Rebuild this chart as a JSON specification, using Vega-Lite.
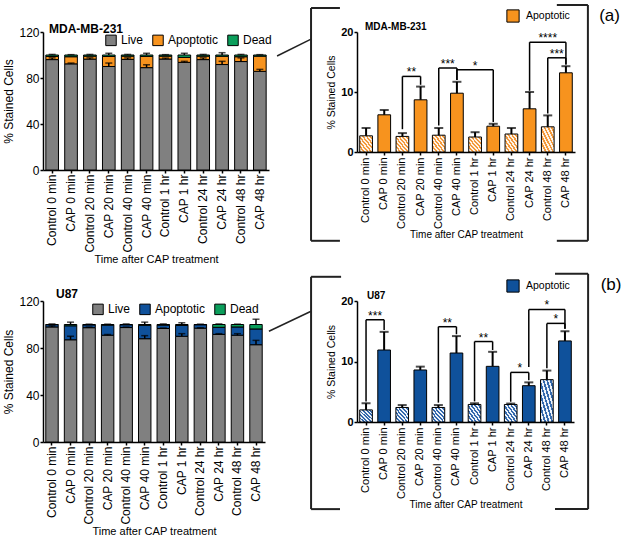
{
  "$schema": "https://vega.github.io/schema/vega-lite/v6.json",
  "padding": {"left": 2, "top": 3, "right": 3, "bottom": 3},
  "background": "white",
  "config": {
    "font": "Liberation Sans",
    "view": {"stroke": null},
    "axis": {"domainColor": "black", "domainWidth": 1.5, "tickColor": "black", "tickWidth": 1.5, "tickSize": 3, "labelColor": "black", "titleColor": "black", "grid": false, "titleFontWeight": "normal", "labelFont": "Liberation Sans", "titleFont": "Liberation Sans"},
    "legend": {"labelFont": "Liberation Sans", "labelColor": "black"},
    "title": {"font": "Liberation Sans", "color": "black", "fontWeight": "bold"}
  },
  "datasets": {
    "mda": [
      {"cond": "Control 0 min", "group": "Control", "Live": 96.0, "Apoptotic": 2.7, "Dead": 1.3, "apopHi": 4.0, "liveHi": 97.5, "totHi": 100.5},
      {"cond": "CAP 0 min", "group": "CAP", "Live": 92.3, "Apoptotic": 6.2, "Dead": 1.5, "apopHi": 7.0, "liveHi": 93.0, "totHi": 100.3},
      {"cond": "Control 20 min", "group": "Control", "Live": 96.4, "Apoptotic": 2.6, "Dead": 1.0, "apopHi": 3.15, "liveHi": 97.5, "totHi": 100.5},
      {"cond": "CAP 20 min", "group": "CAP", "Live": 90.0, "Apoptotic": 8.7, "Dead": 1.3, "apopHi": 10.9, "liveHi": 93.0, "totHi": 101.5},
      {"cond": "Control 40 min", "group": "Control", "Live": 96.2, "Apoptotic": 2.8, "Dead": 1.0, "apopHi": 4.0, "liveHi": 97.5, "totHi": 100.5},
      {"cond": "CAP 40 min", "group": "CAP", "Live": 89.0, "Apoptotic": 9.8, "Dead": 1.2, "apopHi": 11.7, "liveHi": 91.5, "totHi": 101.5},
      {"cond": "Control 1 hr", "group": "Control", "Live": 96.5, "Apoptotic": 2.5, "Dead": 1.0, "apopHi": 3.3, "liveHi": 97.3, "totHi": 100.3},
      {"cond": "CAP 1 hr", "group": "CAP", "Live": 93.6, "Apoptotic": 4.3, "Dead": 2.1, "apopHi": 4.7, "liveHi": 94.5, "totHi": 101.5},
      {"cond": "Control 24 hr", "group": "Control", "Live": 96.0, "Apoptotic": 3.0, "Dead": 1.0, "apopHi": 4.0, "liveHi": 97.5, "totHi": 100.5},
      {"cond": "CAP 24 hr", "group": "CAP", "Live": 91.7, "Apoptotic": 7.2, "Dead": 1.1, "apopHi": 10.0, "liveHi": 94.5, "totHi": 102.0},
      {"cond": "Control 48 hr", "group": "Control", "Live": 94.3, "Apoptotic": 4.2, "Dead": 1.5, "apopHi": 6.1, "liveHi": 97.5, "totHi": 100.5},
      {"cond": "CAP 48 hr", "group": "CAP", "Live": 85.8, "Apoptotic": 13.2, "Dead": 1.0, "apopHi": 14.3, "liveHi": 87.5, "totHi": 100.3}
    ],
    "u87": [
      {"cond": "Control 0 min", "group": "Control", "Live": 97.9, "Apoptotic": 2.0, "Dead": 0.1, "apopHi": 3.1, "liveHi": 98.9, "totHi": 100.5},
      {"cond": "CAP 0 min", "group": "CAP", "Live": 87.0, "Apoptotic": 11.9, "Dead": 1.1, "apopHi": 14.9, "liveHi": 90.0, "totHi": 102.0},
      {"cond": "Control 20 min", "group": "Control", "Live": 97.3, "Apoptotic": 2.4, "Dead": 0.3, "apopHi": 2.8, "liveHi": 97.8, "totHi": 100.3},
      {"cond": "CAP 20 min", "group": "CAP", "Live": 90.9, "Apoptotic": 8.6, "Dead": 0.5, "apopHi": 9.15, "liveHi": 91.5, "totHi": 100.3},
      {"cond": "Control 40 min", "group": "Control", "Live": 97.4, "Apoptotic": 2.4, "Dead": 0.2, "apopHi": 2.8, "liveHi": 97.8, "totHi": 100.5},
      {"cond": "CAP 40 min", "group": "CAP", "Live": 87.9, "Apoptotic": 11.4, "Dead": 0.7, "apopHi": 14.2, "liveHi": 90.5, "totHi": 102.0},
      {"cond": "Control 1 hr", "group": "Control", "Live": 96.6, "Apoptotic": 2.9, "Dead": 0.5, "apopHi": 3.1, "liveHi": 97.0, "totHi": 100.5},
      {"cond": "CAP 1 hr", "group": "CAP", "Live": 90.0, "Apoptotic": 9.2, "Dead": 0.8, "apopHi": 11.6, "liveHi": 92.2, "totHi": 101.5},
      {"cond": "Control 24 hr", "group": "Control", "Live": 96.9, "Apoptotic": 2.9, "Dead": 0.2, "apopHi": 3.05, "liveHi": 97.2, "totHi": 100.3},
      {"cond": "CAP 24 hr", "group": "CAP", "Live": 91.6, "Apoptotic": 6.0, "Dead": 2.4, "apopHi": 6.55, "liveHi": 92.2, "totHi": 100.5},
      {"cond": "Control 48 hr", "group": "Control", "Live": 90.9, "Apoptotic": 7.0, "Dead": 2.1, "apopHi": 8.5, "liveHi": 92.2, "totHi": 100.3},
      {"cond": "CAP 48 hr", "group": "CAP", "Live": 82.8, "Apoptotic": 13.4, "Dead": 3.8, "apopHi": 15.0, "liveHi": 86.5, "totHi": 104.5}
    ],
    "sigA": [
      {"from": "Control 20 min", "to": "CAP 20 min", "span": 1, "y": 12.6, "yFrom": 3.8, "yTo": 11.2, "label": "**"},
      {"from": "Control 40 min", "to": "CAP 40 min", "span": 1, "y": 14.0, "yFrom": 4.4, "yTo": 12.0, "label": "***"},
      {"from": "CAP 40 min", "to": "CAP 1 hr", "mid": "Control 1 hr", "span": 2, "y": 13.7, "yFrom": 12.0, "yTo": 5.0, "label": "*"},
      {"from": "CAP 24 hr", "to": "CAP 48 hr", "mid": "Control 48 hr", "span": 2, "y": 18.3, "yFrom": 10.2, "yTo": 14.6, "label": "****"},
      {"from": "Control 48 hr", "to": "CAP 48 hr", "span": 1, "y": 15.7, "yFrom": 6.4, "yTo": 14.6, "label": "***"}
    ],
    "sigB": [
      {"from": "Control 0 min", "to": "CAP 0 min", "span": 1, "y": 16.9, "yFrom": 3.4, "yTo": 15.2, "label": "***"},
      {"from": "Control 40 min", "to": "CAP 40 min", "span": 1, "y": 15.75, "yFrom": 3.2, "yTo": 14.5, "label": "**"},
      {"from": "Control 1 hr", "to": "CAP 1 hr", "span": 1, "y": 13.3, "yFrom": 3.4, "yTo": 11.9, "label": "**"},
      {"from": "Control 24 hr", "to": "CAP 24 hr", "span": 1, "y": 8.2, "yFrom": 3.35, "yTo": 6.9, "label": "*"},
      {"from": "CAP 24 hr", "to": "CAP 48 hr", "mid": "Control 48 hr", "span": 2, "y": 18.6, "yFrom": 9.1, "yTo": 15.4, "label": "*"},
      {"from": "Control 48 hr", "to": "CAP 48 hr", "span": 1, "y": 16.3, "yFrom": 8.9, "yTo": 15.4, "label": "*"}
    ]
  },
  "concat": [
    {
      "width": 226, "height": 138,
      "title": {"text": "MDA-MB-231", "anchor": "start", "frame": "group", "fontSize": 12, "offset": -10, "dx": 6},
      "layer": [
        {
          "data": {"name": "mda"},
          "transform": [{"fold": ["Live", "Apoptotic", "Dead"], "as": ["stain", "pct"]}],
          "mark": {"type": "bar", "stroke": "black", "strokeWidth": 1},
          "encoding": {
            "x": {"field": "cond", "type": "nominal", "title": "Time after CAP treatment",
                  "scale": {"domain": ["Control 0 min", "CAP 0 min", "Control 20 min", "CAP 20 min", "Control 40 min", "CAP 40 min", "Control 1 hr", "CAP 1 hr", "Control 24 hr", "CAP 24 hr", "Control 48 hr", "CAP 48 hr"], "paddingInner": 0.33, "paddingOuter": 0.15},
                  "axis": {"labelAngle": -90, "labelFontSize": 12, "labelPadding": 1, "titleFontSize": 11, "titlePadding": 1.5}},
            "y": {"field": "pct", "type": "quantitative", "stack": "zero", "title": "% Stained Cells", "scale": {"domain": [0, 120], "nice": false},
                  "axis": {"values": [0, 20, 40, 60, 80, 100, 120], "labelFontSize": 12, "titleFontSize": 12, "labelPadding": 1, "titlePadding": 3}},
            "order": {"field": "cond", "type": "nominal"},
            "color": {"field": "stain", "type": "nominal", "sort": ["Live", "Apoptotic", "Dead"],
                      "scale": {"domain": ["Live", "Apoptotic", "Dead"], "range": ["#808080", "#F7931E", "#0B9E5B"]},
                      "legend": {"title": null, "orient": "none", "legendX": 62, "legendY": 2, "direction": "horizontal", "symbolType": "square", "symbolSize": 110, "symbolStrokeColor": "black", "symbolStrokeWidth": 1, "labelFontSize": 12, "columnPadding": 6, "labelOffset": 4}}
          }
        },
        {"data": {"name": "mda"}, "mark": {"type": "rule", "strokeWidth": 1.5, "color": "black"},
         "encoding": {"x": {"field": "cond", "type": "nominal"}, "y": {"field": "Live", "type": "quantitative"}, "y2": {"field": "liveHi"}}},
        {"data": {"name": "mda"}, "mark": {"type": "tick", "size": 7, "thickness": 1.5, "color": "black"},
         "encoding": {"x": {"field": "cond", "type": "nominal"}, "y": {"field": "liveHi", "type": "quantitative"}}},
        {"data": {"name": "mda"}, "mark": {"type": "rule", "strokeWidth": 1.5, "color": "black"},
         "encoding": {"x": {"field": "cond", "type": "nominal"}, "y": {"field": "totHi", "type": "quantitative"}, "y2": {"datum": 100}}},
        {"data": {"name": "mda"}, "mark": {"type": "tick", "size": 7, "thickness": 1.5, "color": "black"},
         "encoding": {"x": {"field": "cond", "type": "nominal"}, "y": {"field": "totHi", "type": "quantitative"}}}
      ]
    },
    {
      "width": 218, "height": 120,
      "title": {"text": "MDA-MB-231", "anchor": "start", "frame": "group", "fontSize": 10, "offset": -28, "dx": 8},
      "layer": [
        {
          "layer": [
            {
              "data": {"name": "mda"},
              "transform": [{"filter": "datum.group === 'Control'"}],
              "mark": {"type": "bar", "stroke": "black", "strokeWidth": 1,
                       "fill": {"gradient": "linear", "x1": 0, "y1": 1, "x2": 1, "y2": 0, "stops": [
                         {"offset": 0, "color": "#F39A3C"}, {"offset": 0.0714, "color": "#F39A3C"}, {"offset": 0.0714, "color": "#FFF3E6"}, {"offset": 0.1429, "color": "#FFF3E6"},
                         {"offset": 0.1429, "color": "#F39A3C"}, {"offset": 0.2143, "color": "#F39A3C"}, {"offset": 0.2143, "color": "#FFF3E6"}, {"offset": 0.2857, "color": "#FFF3E6"},
                         {"offset": 0.2857, "color": "#F39A3C"}, {"offset": 0.3571, "color": "#F39A3C"}, {"offset": 0.3571, "color": "#FFF3E6"}, {"offset": 0.4286, "color": "#FFF3E6"},
                         {"offset": 0.4286, "color": "#F39A3C"}, {"offset": 0.5, "color": "#F39A3C"}, {"offset": 0.5, "color": "#FFF3E6"}, {"offset": 0.5714, "color": "#FFF3E6"},
                         {"offset": 0.5714, "color": "#F39A3C"}, {"offset": 0.6429, "color": "#F39A3C"}, {"offset": 0.6429, "color": "#FFF3E6"}, {"offset": 0.7143, "color": "#FFF3E6"},
                         {"offset": 0.7143, "color": "#F39A3C"}, {"offset": 0.7857, "color": "#F39A3C"}, {"offset": 0.7857, "color": "#FFF3E6"}, {"offset": 0.8571, "color": "#FFF3E6"},
                         {"offset": 0.8571, "color": "#F39A3C"}, {"offset": 0.9286, "color": "#F39A3C"}, {"offset": 0.9286, "color": "#FFF3E6"}, {"offset": 1, "color": "#FFF3E6"}]}},
              "encoding": {
                "x": {"field": "cond", "type": "nominal", "title": "Time after CAP treatment",
                      "scale": {"domain": ["Control 0 min", "CAP 0 min", "Control 20 min", "CAP 20 min", "Control 40 min", "CAP 40 min", "Control 1 hr", "CAP 1 hr", "Control 24 hr", "CAP 24 hr", "Control 48 hr", "CAP 48 hr"], "paddingInner": 0.3, "paddingOuter": 0.15},
                      "axis": {"labelAngle": -90, "labelFontSize": 11, "labelPadding": 2, "titleFontSize": 10, "titlePadding": 1}},
                "y": {"field": "Apoptotic", "type": "quantitative", "title": "% Stained Cells", "scale": {"domain": [0, 20], "nice": false},
                      "axis": {"values": [0, 5, 10, 15, 20], "labelFontSize": 11, "labelFontWeight": "bold", "titleFontSize": 10.5, "labelPadding": 1, "titlePadding": 4}}
              }
            },
            {
              "data": {"name": "mda"},
              "transform": [{"filter": "datum.group === 'CAP'"}],
              "mark": {"type": "bar", "stroke": "black", "strokeWidth": 1},
              "encoding": {
                "x": {"field": "cond", "type": "nominal"},
                "y": {"field": "Apoptotic", "type": "quantitative"},
                "color": {"datum": "Apoptotic", "type": "nominal", "scale": {"range": ["#F7931E"]},
                          "legend": {"title": null, "orient": "none", "legendX": 149, "legendY": -23, "symbolType": "square", "symbolSize": 150, "symbolStrokeColor": "black", "symbolStrokeWidth": 1, "labelFontSize": 10.5, "labelOffset": 6}}
              }
            },
            {"data": {"name": "mda"}, "mark": {"type": "rule", "strokeWidth": 2, "color": "black"},
             "encoding": {"x": {"field": "cond", "type": "nominal"}, "y": {"field": "Apoptotic", "type": "quantitative"}, "y2": {"field": "apopHi"}}},
            {"data": {"name": "mda"}, "mark": {"type": "tick", "size": 9, "thickness": 2, "color": "black"},
             "encoding": {"x": {"field": "cond", "type": "nominal"}, "y": {"field": "apopHi", "type": "quantitative"}}},
            {"data": {"name": "sigA"}, "mark": {"type": "rule", "strokeWidth": 1.5, "color": "black"},
             "encoding": {"x": {"field": "from", "type": "nominal"}, "x2": {"field": "to"}, "y": {"field": "y", "type": "quantitative"}}},
            {"data": {"name": "sigA"}, "mark": {"type": "rule", "strokeWidth": 1.5, "color": "black"},
             "encoding": {"x": {"field": "from", "type": "nominal"}, "y": {"field": "yFrom", "type": "quantitative"}, "y2": {"field": "y"}}},
            {"data": {"name": "sigA"}, "mark": {"type": "rule", "strokeWidth": 1.5, "color": "black"},
             "encoding": {"x": {"field": "to", "type": "nominal"}, "y": {"field": "yTo", "type": "quantitative"}, "y2": {"field": "y"}}},
            {"data": {"name": "sigA"}, "transform": [{"filter": "datum.span === 1"}],
             "mark": {"type": "text", "fontSize": 12, "baseline": "alphabetic", "align": "center", "dx": 9, "dy": 0, "color": "black"},
             "encoding": {"x": {"field": "from", "type": "nominal"}, "y": {"field": "y", "type": "quantitative"}, "text": {"field": "label"}}},
            {"data": {"name": "sigA"}, "transform": [{"filter": "datum.span === 2"}],
             "mark": {"type": "text", "fontSize": 12, "baseline": "alphabetic", "align": "center", "dy": 0, "color": "black"},
             "encoding": {"x": {"field": "mid", "type": "nominal"}, "y": {"field": "y", "type": "quantitative"}, "text": {"field": "label"}}}
          ]
        },
        {
          "layer": [
            {
              "data": {"values": [
                {"x": -2.53, "x2": -2.53, "y": 24.0, "y2": -14.8},
                {"x": -2.53, "x2": -0.94, "y": 24.0, "y2": 24.0},
                {"x": -2.53, "x2": -0.94, "y": -14.8, "y2": -14.8},
                {"x": 12.71, "x2": 12.71, "y": 24.5, "y2": -14.8},
                {"x": 11.0, "x2": 12.71, "y": 24.5, "y2": 24.5},
                {"x": 11.0, "x2": 12.71, "y": -14.8, "y2": -14.8}
              ]},
              "mark": {"type": "rule", "strokeWidth": 2, "color": "#222222", "clip": false},
              "encoding": {
                "x": {"field": "x", "type": "quantitative", "scale": {"domain": [0, 12], "nice": false, "zero": false}, "axis": null},
                "x2": {"field": "x2"},
                "y": {"field": "y", "type": "quantitative", "scale": {"domain": [0, 20], "nice": false, "zero": false}, "axis": null},
                "y2": {"field": "y2"}
              }
            },
            {
              "data": {"values": [{"x": -4.4, "x2": -2.53, "y": 16.0, "y2": 18.8}]},
              "mark": {"type": "rule", "strokeWidth": 1.5, "color": "#222222", "clip": false},
              "encoding": {
                "x": {"field": "x", "type": "quantitative"},
                "x2": {"field": "x2"},
                "y": {"field": "y", "type": "quantitative"},
                "y2": {"field": "y2"}
              }
            },
            {
              "data": {"values": [{"x": 13.9, "y": 22.75, "label": "(a)"}]},
              "mark": {"type": "text", "fontSize": 17, "baseline": "middle", "align": "center", "color": "black", "clip": false},
              "encoding": {
                "x": {"field": "x", "type": "quantitative"},
                "y": {"field": "y", "type": "quantitative"},
                "text": {"field": "label"}
              }
            }
          ]
        }
      ],
      "resolve": {"scale": {"x": "independent", "y": "independent"}}
    },
    {
      "width": 222, "height": 141,
      "title": {"text": "U87", "anchor": "start", "frame": "group", "fontSize": 12, "offset": -6, "dx": 13},
      "layer": [
        {
          "data": {"name": "u87"},
          "transform": [{"fold": ["Live", "Apoptotic", "Dead"], "as": ["stain", "pct"]}],
          "mark": {"type": "bar", "stroke": "black", "strokeWidth": 1},
          "encoding": {
            "x": {"field": "cond", "type": "nominal", "title": "Time after CAP treatment",
                  "scale": {"domain": ["Control 0 min", "CAP 0 min", "Control 20 min", "CAP 20 min", "Control 40 min", "CAP 40 min", "Control 1 hr", "CAP 1 hr", "Control 24 hr", "CAP 24 hr", "Control 48 hr", "CAP 48 hr"], "paddingInner": 0.33, "paddingOuter": 0.15},
                  "axis": {"labelAngle": -90, "labelFontSize": 12, "labelPadding": 1, "titleFontSize": 11, "titlePadding": 1}},
            "y": {"field": "pct", "type": "quantitative", "stack": "zero", "title": "% Stained Cells", "scale": {"domain": [0, 120], "nice": false},
                  "axis": {"values": [0, 20, 40, 60, 80, 100, 120], "labelFontSize": 12, "titleFontSize": 12, "labelPadding": 1, "titlePadding": 3}},
            "order": {"field": "cond", "type": "nominal"},
            "color": {"field": "stain", "type": "nominal", "sort": ["Live", "Apoptotic", "Dead"],
                      "scale": {"domain": ["Live", "Apoptotic", "Dead"], "range": ["#808080", "#0F519B", "#0B9E5B"]},
                      "legend": {"title": null, "orient": "none", "legendX": 49, "legendY": 2, "direction": "horizontal", "symbolType": "square", "symbolSize": 110, "symbolStrokeColor": "black", "symbolStrokeWidth": 1, "labelFontSize": 12, "columnPadding": 6, "labelOffset": 4}}
          }
        },
        {"data": {"name": "u87"}, "mark": {"type": "rule", "strokeWidth": 1.5, "color": "black"},
         "encoding": {"x": {"field": "cond", "type": "nominal"}, "y": {"field": "Live", "type": "quantitative"}, "y2": {"field": "liveHi"}}},
        {"data": {"name": "u87"}, "mark": {"type": "tick", "size": 7, "thickness": 1.5, "color": "black"},
         "encoding": {"x": {"field": "cond", "type": "nominal"}, "y": {"field": "liveHi", "type": "quantitative"}}},
        {"data": {"name": "u87"}, "mark": {"type": "rule", "strokeWidth": 1.5, "color": "black"},
         "encoding": {"x": {"field": "cond", "type": "nominal"}, "y": {"field": "totHi", "type": "quantitative"}, "y2": {"datum": 100}}},
        {"data": {"name": "u87"}, "mark": {"type": "tick", "size": 7, "thickness": 1.5, "color": "black"},
         "encoding": {"x": {"field": "cond", "type": "nominal"}, "y": {"field": "totHi", "type": "quantitative"}}}
      ]
    },
    {
      "width": 217, "height": 121,
      "title": {"text": "U87", "anchor": "start", "frame": "group", "fontSize": 10, "offset": -28, "dx": 10},
      "layer": [
        {
          "layer": [
            {
              "data": {"name": "u87"},
              "transform": [{"filter": "datum.group === 'Control'"}],
              "mark": {"type": "bar", "stroke": "black", "strokeWidth": 1,
                       "fill": {"gradient": "linear", "x1": 0, "y1": 1, "x2": 1, "y2": 0, "stops": [
                         {"offset": 0, "color": "#3469AD"}, {"offset": 0.0714, "color": "#3469AD"}, {"offset": 0.0714, "color": "#EEF3FA"}, {"offset": 0.1429, "color": "#EEF3FA"},
                         {"offset": 0.1429, "color": "#3469AD"}, {"offset": 0.2143, "color": "#3469AD"}, {"offset": 0.2143, "color": "#EEF3FA"}, {"offset": 0.2857, "color": "#EEF3FA"},
                         {"offset": 0.2857, "color": "#3469AD"}, {"offset": 0.3571, "color": "#3469AD"}, {"offset": 0.3571, "color": "#EEF3FA"}, {"offset": 0.4286, "color": "#EEF3FA"},
                         {"offset": 0.4286, "color": "#3469AD"}, {"offset": 0.5, "color": "#3469AD"}, {"offset": 0.5, "color": "#EEF3FA"}, {"offset": 0.5714, "color": "#EEF3FA"},
                         {"offset": 0.5714, "color": "#3469AD"}, {"offset": 0.6429, "color": "#3469AD"}, {"offset": 0.6429, "color": "#EEF3FA"}, {"offset": 0.7143, "color": "#EEF3FA"},
                         {"offset": 0.7143, "color": "#3469AD"}, {"offset": 0.7857, "color": "#3469AD"}, {"offset": 0.7857, "color": "#EEF3FA"}, {"offset": 0.8571, "color": "#EEF3FA"},
                         {"offset": 0.8571, "color": "#3469AD"}, {"offset": 0.9286, "color": "#3469AD"}, {"offset": 0.9286, "color": "#EEF3FA"}, {"offset": 1, "color": "#EEF3FA"}]}},
              "encoding": {
                "x": {"field": "cond", "type": "nominal", "title": "Time after CAP treatment",
                      "scale": {"domain": ["Control 0 min", "CAP 0 min", "Control 20 min", "CAP 20 min", "Control 40 min", "CAP 40 min", "Control 1 hr", "CAP 1 hr", "Control 24 hr", "CAP 24 hr", "Control 48 hr", "CAP 48 hr"], "paddingInner": 0.3, "paddingOuter": 0.15},
                      "axis": {"labelAngle": -90, "labelFontSize": 11, "labelPadding": 2, "titleFontSize": 10, "titlePadding": 1}},
                "y": {"field": "Apoptotic", "type": "quantitative", "title": "% Stained Cells", "scale": {"domain": [0, 20], "nice": false},
                      "axis": {"values": [0, 5, 10, 15, 20], "labelFontSize": 11, "labelFontWeight": "bold", "titleFontSize": 10.5, "labelPadding": 1, "titlePadding": 4}}
              }
            },
            {
              "data": {"name": "u87"},
              "transform": [{"filter": "datum.group === 'CAP'"}],
              "mark": {"type": "bar", "stroke": "black", "strokeWidth": 1},
              "encoding": {
                "x": {"field": "cond", "type": "nominal"},
                "y": {"field": "Apoptotic", "type": "quantitative"},
                "color": {"datum": "Apoptotic", "type": "nominal", "scale": {"range": ["#0F519B"]},
                          "legend": {"title": null, "orient": "none", "legendX": 149, "legendY": -22, "symbolType": "square", "symbolSize": 150, "symbolStrokeColor": "black", "symbolStrokeWidth": 1, "labelFontSize": 10.5, "labelOffset": 6}}
              }
            },
            {"data": {"name": "u87"}, "mark": {"type": "rule", "strokeWidth": 2, "color": "black"},
             "encoding": {"x": {"field": "cond", "type": "nominal"}, "y": {"field": "Apoptotic", "type": "quantitative"}, "y2": {"field": "apopHi"}}},
            {"data": {"name": "u87"}, "mark": {"type": "tick", "size": 9, "thickness": 2, "color": "black"},
             "encoding": {"x": {"field": "cond", "type": "nominal"}, "y": {"field": "apopHi", "type": "quantitative"}}},
            {"data": {"name": "sigB"}, "mark": {"type": "rule", "strokeWidth": 1.5, "color": "black"},
             "encoding": {"x": {"field": "from", "type": "nominal"}, "x2": {"field": "to"}, "y": {"field": "y", "type": "quantitative"}}},
            {"data": {"name": "sigB"}, "mark": {"type": "rule", "strokeWidth": 1.5, "color": "black"},
             "encoding": {"x": {"field": "from", "type": "nominal"}, "y": {"field": "yFrom", "type": "quantitative"}, "y2": {"field": "y"}}},
            {"data": {"name": "sigB"}, "mark": {"type": "rule", "strokeWidth": 1.5, "color": "black"},
             "encoding": {"x": {"field": "to", "type": "nominal"}, "y": {"field": "yTo", "type": "quantitative"}, "y2": {"field": "y"}}},
            {"data": {"name": "sigB"}, "transform": [{"filter": "datum.span === 1"}],
             "mark": {"type": "text", "fontSize": 12, "baseline": "alphabetic", "align": "center", "dx": 9, "dy": 0, "color": "black"},
             "encoding": {"x": {"field": "from", "type": "nominal"}, "y": {"field": "y", "type": "quantitative"}, "text": {"field": "label"}}},
            {"data": {"name": "sigB"}, "transform": [{"filter": "datum.span === 2"}],
             "mark": {"type": "text", "fontSize": 12, "baseline": "alphabetic", "align": "center", "dy": 0, "color": "black"},
             "encoding": {"x": {"field": "mid", "type": "nominal"}, "y": {"field": "y", "type": "quantitative"}, "text": {"field": "label"}}}
          ]
        },
        {
          "layer": [
            {
              "data": {"values": [
                {"x": -2.54, "x2": -2.54, "y": 24.0, "y2": -14.4},
                {"x": -2.54, "x2": -0.88, "y": 24.0, "y2": 24.0},
                {"x": -2.54, "x2": -0.94, "y": -14.4, "y2": -14.4},
                {"x": 12.78, "x2": 12.78, "y": 24.5, "y2": -14.4},
                {"x": 10.95, "x2": 12.78, "y": 24.5, "y2": 24.5},
                {"x": 10.95, "x2": 12.78, "y": -14.4, "y2": -14.4}
              ]},
              "mark": {"type": "rule", "strokeWidth": 2, "color": "#222222", "clip": false},
              "encoding": {
                "x": {"field": "x", "type": "quantitative", "scale": {"domain": [0, 12], "nice": false, "zero": false}, "axis": null},
                "x2": {"field": "x2"},
                "y": {"field": "y", "type": "quantitative", "scale": {"domain": [0, 20], "nice": false, "zero": false}, "axis": null},
                "y2": {"field": "y2"}
              }
            },
            {
              "data": {"values": [{"x": -4.87, "x2": -2.54, "y": 15.0, "y2": 18.3}]},
              "mark": {"type": "rule", "strokeWidth": 1.5, "color": "#222222", "clip": false},
              "encoding": {
                "x": {"field": "x", "type": "quantitative"},
                "x2": {"field": "x2"},
                "y": {"field": "y", "type": "quantitative"},
                "y2": {"field": "y2"}
              }
            },
            {
              "data": {"values": [{"x": 14.05, "y": 22.6, "label": "(b)"}]},
              "mark": {"type": "text", "fontSize": 17, "baseline": "middle", "align": "center", "color": "black", "clip": false},
              "encoding": {
                "x": {"field": "x", "type": "quantitative"},
                "y": {"field": "y", "type": "quantitative"},
                "text": {"field": "label"}
              }
            }
          ]
        }
      ],
      "resolve": {"scale": {"x": "independent", "y": "independent"}}
    }
  ],
  "columns": 2,
  "spacing": {"row": 131, "column": 88},
  "bounds": "flush",
  "resolve": {"scale": {"color": "independent"}, "legend": {"color": "independent"}}
}
